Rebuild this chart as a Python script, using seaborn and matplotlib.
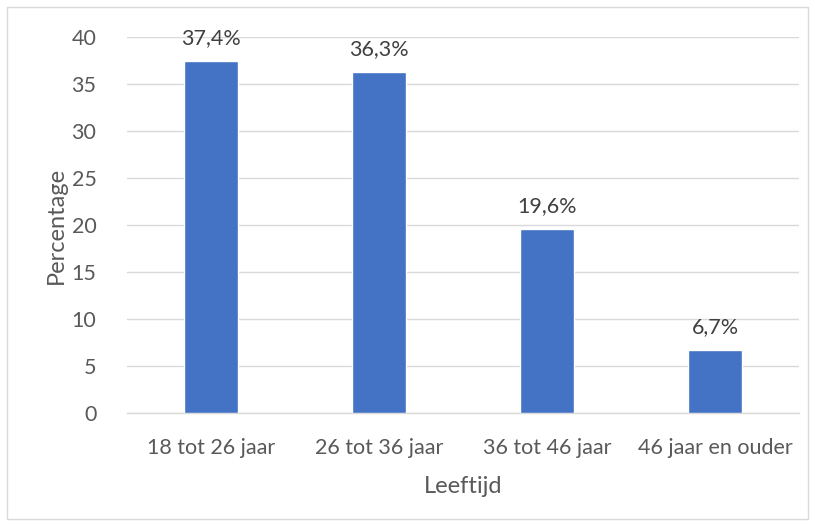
import matplotlib
matplotlib.use("Agg")
import matplotlib.pyplot as plt
import seaborn as sns
import pandas as pd
from matplotlib.patches import Rectangle

categories = ["18 tot 26 jaar", "26 tot 36 jaar", "36 tot 46 jaar", "46 jaar en ouder"]
values = [37.4, 36.3, 19.6, 6.7]
labels = ["37,4%", "36,3%", "19,6%", "6,7%"]

df = pd.DataFrame({"Leeftijd": categories, "Percentage": values})

sns.set_style("white")
plt.rcParams["font.family"] = ["Lato", "DejaVu Sans"]

W, H = 815, 526
fig = plt.figure(figsize=(W / 100, H / 100), dpi=100)
ax = fig.add_axes([127 / W, 1 - 413 / H, 672 / W, (413 - 37) / H])

sns.barplot(data=df, x="Leeftijd", y="Percentage", color="#4472C4",
            width=0.32, saturation=1, ax=ax, zorder=3)

ax.set_ylim(0, 40)
ax.set_xlim(-0.5, 3.5)
ax.set_yticks(range(0, 41, 5))
ax.yaxis.grid(True, color="#D9D9D9", linewidth=1, zorder=0)
ax.xaxis.grid(False)
for s in ["top", "right", "left"]:
    ax.spines[s].set_visible(False)
ax.spines["bottom"].set_color("#D9D9D9")
ax.spines["bottom"].set_linewidth(1)
ax.set_xticks([-0.5, 0.5, 1.5, 2.5, 3.5], minor=False)
ax.set_xticklabels([])
ax.set_xticks([0, 1, 2, 3], minor=True)
ax.set_xticklabels(categories, minor=True)
ax.tick_params(axis="x", which="major", length=6, color="#D9D9D9", width=1, direction="out")
ax.tick_params(axis="x", which="minor", length=0, pad=18, labelsize=15.5, labelcolor="#595959")
ax.tick_params(axis="y", length=0, pad=22, labelsize=15.5, labelcolor="#595959")

for i, (v, lab) in enumerate(zip(values, labels)):
    ax.text(i, v + 1.4, lab, ha="center", va="bottom", fontsize=15.5, color="#404040")

ax.set_xlabel("Leeftijd", fontsize=17, color="#595959", labelpad=13)
ax.set_ylabel("Percentage", fontsize=17, color="#595959", labelpad=3)

fig.patches.append(Rectangle((7 / W, 7 / H), 1 - 14 / W, 1 - 14 / H, transform=fig.transFigure,
                             fill=False, edgecolor="#D9D9D9", linewidth=1))

fig.savefig("out.png", dpi=100)
